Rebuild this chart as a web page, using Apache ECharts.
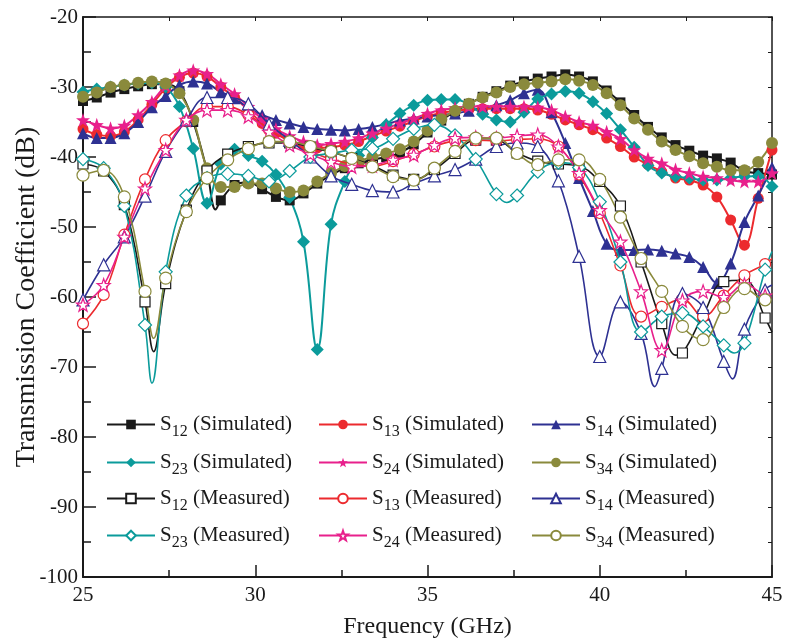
<!DOCTYPE html>
<html><head><meta charset="utf-8">
<script src="https://cdn.jsdelivr.net/npm/echarts@6/dist/echarts.min.js"></script>
<style>html,body{margin:0;padding:0;background:#fff}#c{width:787px;height:644px}</style>
</head><body><div id="c"></div>
<script>
const freqSim = [25.0,25.4,25.8,26.2,26.6,27.0,27.4,27.8,28.2,28.6,29.0,29.4,29.8,30.2,30.6,31.0,31.4,31.8,32.2,32.6,33.0,33.4,33.8,34.2,34.6,35.0,35.4,35.8,36.2,36.6,37.0,37.4,37.8,38.2,38.6,39.0,39.4,39.8,40.2,40.6,41.0,41.4,41.8,42.2,42.6,43.0,43.4,43.8,44.2,44.6,45.0];
const freqMeas = [25.0,25.6,26.2,26.8,27.4,28.0,28.6,29.2,29.8,30.4,31.0,31.6,32.2,32.8,33.4,34.0,34.6,35.2,35.8,36.4,37.0,37.6,38.2,38.8,39.4,40.0,40.6,41.2,41.8,42.4,43.0,43.6,44.2,44.8];

const s12Sim = [-32.0,-31.5,-30.8,-30.3,-29.9,-29.6,-29.6,-30.6,-35.0,-42.0,-46.2,-44.0,-43.6,-44.6,-45.7,-46.2,-45.2,-43.8,-42.6,-41.6,-40.9,-40.4,-40.0,-39.4,-38.2,-36.5,-34.8,-33.5,-32.4,-31.4,-30.6,-29.8,-29.2,-28.8,-28.5,-28.2,-28.5,-29.2,-30.5,-32.2,-34.0,-35.7,-37.2,-38.3,-39.1,-39.8,-40.2,-40.8,-42.0,-42.3,-42.5];
const s12SimExtra = [[28.85,-47.5]];
const s13Sim = [-36.0,-36.8,-37.0,-36.4,-34.7,-32.5,-30.2,-28.6,-28.0,-28.5,-30.0,-31.5,-33.3,-35.2,-36.6,-37.6,-38.3,-38.7,-38.6,-38.3,-37.8,-37.0,-36.3,-35.6,-34.9,-34.2,-33.7,-33.4,-33.2,-33.1,-33.1,-33.1,-33.1,-33.3,-33.9,-34.7,-35.4,-36.1,-37.3,-38.5,-40.0,-41.1,-42.1,-43.0,-43.3,-44.0,-45.7,-49.0,-52.6,-45.9,-39.0];
const s14Sim = [-36.6,-37.3,-37.3,-36.6,-35.0,-32.9,-31.3,-29.7,-29.2,-29.5,-30.7,-31.6,-33.0,-34.0,-34.7,-35.2,-35.7,-36.0,-36.1,-36.2,-36.0,-35.7,-35.3,-34.8,-34.5,-34.2,-34.0,-33.8,-33.4,-33.0,-32.6,-31.9,-30.9,-30.4,-33.6,-38.0,-43.0,-47.7,-52.4,-53.3,-53.3,-53.2,-53.4,-53.8,-54.3,-55.7,-58.0,-55.2,-49.3,-45.5,-41.5];
const s23Sim = [-30.7,-30.3,-30.0,-29.7,-29.5,-29.4,-30.0,-32.8,-38.8,-46.6,-41.0,-38.9,-39.8,-40.6,-42.5,-45.8,-52.1,-67.5,-49.6,-43.5,-39.8,-37.2,-35.4,-33.8,-32.6,-31.9,-31.8,-31.8,-32.5,-33.9,-34.7,-35.0,-33.6,-31.7,-31.0,-30.6,-30.9,-32.1,-33.8,-36.1,-38.6,-41.2,-42.3,-42.8,-43.0,-43.3,-43.3,-43.0,-42.8,-42.7,-44.2];
const s24Sim = [-34.7,-35.4,-35.9,-35.5,-34.0,-32.1,-29.8,-28.3,-27.6,-28.1,-29.6,-31.0,-32.8,-34.6,-36.0,-37.0,-37.8,-38.3,-38.1,-37.8,-37.3,-36.6,-35.9,-35.2,-34.5,-33.8,-33.3,-33.0,-32.8,-32.8,-32.8,-32.8,-32.8,-32.9,-33.3,-34.2,-35.0,-35.5,-36.4,-37.4,-39.0,-40.2,-40.9,-41.8,-42.3,-42.8,-43.0,-43.3,-43.5,-43.5,-42.3];
const s34Sim = [-31.4,-30.8,-30.0,-29.7,-29.4,-29.2,-29.5,-30.9,-34.7,-41.6,-44.3,-44.3,-43.8,-43.8,-44.5,-45.0,-44.8,-43.5,-42.3,-41.3,-40.6,-40.0,-39.5,-38.9,-37.8,-36.2,-34.6,-33.4,-32.4,-31.5,-30.8,-30.0,-29.6,-29.4,-29.2,-28.9,-29.1,-29.7,-30.9,-32.6,-34.5,-36.1,-37.8,-39.0,-39.9,-40.9,-41.4,-41.9,-41.9,-40.7,-38.0];

const s12Meas = [-41.0,-42.0,-46.8,-60.7,-58.1,-47.6,-42.0,-39.6,-38.5,-38.0,-38.0,-38.6,-39.3,-40.2,-41.2,-42.6,-43.2,-41.8,-39.5,-37.6,-37.6,-39.4,-40.6,-41.0,-41.3,-43.5,-47.0,-55.0,-63.8,-68.0,-62.6,-57.8,-57.6,-63.0];
const s12MeasExtra = [[27.05,-67.8],[42.2,-68.3],[45.0,-65.0]];
const s13Meas = [-63.8,-59.7,-51.1,-43.2,-37.6,-34.9,-32.8,-32.8,-34.0,-36.1,-37.8,-39.2,-40.3,-41.0,-41.3,-40.6,-39.6,-38.5,-37.7,-37.6,-37.7,-37.5,-37.4,-38.5,-42.5,-48.0,-55.5,-62.8,-61.4,-60.3,-62.8,-59.8,-56.9,-55.3];
const s13MeasExtra = [[45.0,-54.5]];
const s14Meas = [-60.4,-55.4,-51.4,-45.6,-39.2,-34.7,-31.5,-31.5,-32.4,-35.3,-37.6,-40.0,-42.7,-43.9,-44.8,-45.0,-43.8,-42.7,-41.8,-40.3,-38.5,-38.0,-38.5,-43.4,-54.2,-68.5,-60.7,-65.2,-70.2,-59.5,-61.5,-69.2,-64.6,-59.0];
const s14MeasExtra = [[41.6,-72.8],[43.85,-71.7],[45.0,-58.3]];
const s23Meas = [-40.3,-41.6,-47.0,-64.0,-56.4,-45.5,-43.0,-42.4,-42.7,-43.5,-42.0,-40.0,-39.5,-39.0,-38.8,-37.4,-36.0,-35.4,-36.9,-40.3,-45.3,-45.5,-42.1,-40.8,-41.5,-46.4,-55.0,-65.0,-62.8,-62.3,-64.2,-66.9,-66.6,-56.1];
const s23MeasExtra = [[27.0,-72.3],[37.3,-46.5],[43.9,-68.0],[45.0,-53.5]];
const s24Meas = [-61.1,-58.3,-51.4,-44.5,-39.0,-34.7,-33.3,-33.3,-34.2,-36.4,-38.3,-39.6,-40.7,-41.4,-41.2,-40.4,-39.7,-38.3,-37.3,-37.2,-37.3,-37.0,-36.8,-38.5,-42.3,-47.6,-52.1,-59.2,-67.6,-60.5,-59.2,-60.0,-58.2,-59.8];
const s24MeasExtra = [[45.0,-60.0]];
const s34Meas = [-42.6,-41.9,-45.7,-59.2,-57.3,-47.8,-43.0,-40.4,-38.8,-37.8,-37.8,-38.5,-39.2,-40.2,-41.4,-42.8,-43.3,-41.6,-39.2,-37.3,-37.3,-39.5,-41.1,-40.4,-40.4,-43.2,-48.6,-54.5,-59.2,-64.2,-66.1,-61.5,-58.8,-60.4];
const s34MeasExtra = [[27.05,-65.9],[45.0,-59.5]];

const legendNames = [
  'S12 (Simulated)','S13 (Simulated)','S14 (Simulated)',
  'S23 (Simulated)','S24 (Simulated)','S34 (Simulated)',
  'S12 (Measured)','S13 (Measured)','S14 (Measured)',
  'S23 (Measured)','S24 (Measured)','S34 (Measured)'
];

const C = {black:'#1a1a1a', red:'#ec2a2e', blue:'#2e3192', teal:'#0b9b9b', pink:'#e8208c', olive:'#8a8a3c'};
const STAR = 'path://M0,-10 L2.35,-3.24 L9.51,-3.09 L3.8,1.24 L5.88,8.09 L0,4 L-5.88,8.09 L-3.8,1.24 L-9.51,-3.09 L-2.35,-3.24 Z';
const FONT = 'Liberation Serif';

function mk(freqs, vals, extras) {
  const d = freqs.map((f, i) => [f, vals[i]]);
  (extras || []).forEach(e => d.push({ value: e, symbol: 'none' }));
  d.sort((a, b) => (Array.isArray(a) ? a[0] : a.value[0]) - (Array.isArray(b) ? b[0] : b.value[0]));
  return d;
}

function simSeries(name, color, symbol, size, data) {
  return { name, type: 'line', smooth: 0.4, data, color, symbol, symbolSize: size,
    lineStyle: { color, width: 2 }, itemStyle: { color }, z: 2 };
}
function measSeries(name, color, symbol, size, data) {
  return { name, type: 'line', smooth: 0.4, data, color, symbol, symbolSize: size,
    lineStyle: { color, width: 1.6 }, itemStyle: { color: '#fff', borderColor: color, borderWidth: 1.2 }, z: 3 };
}

const series = [
  simSeries(legendNames[0], C.black, 'rect', 10, mk(freqSim, s12Sim, s12SimExtra)),
  simSeries(legendNames[1], C.red, 'circle', 11, mk(freqSim, s13Sim)),
  simSeries(legendNames[2], C.blue, 'triangle', 12, mk(freqSim, s14Sim)),
  simSeries(legendNames[3], C.teal, 'diamond', 13, mk(freqSim, s23Sim)),
  simSeries(legendNames[4], C.pink, STAR, 14, mk(freqSim, s24Sim)),
  simSeries(legendNames[5], C.olive, 'circle', 12, mk(freqSim, s34Sim)),
  measSeries(legendNames[6], C.black, 'rect', 10, mk(freqMeas, s12Meas, s12MeasExtra)),
  measSeries(legendNames[7], C.red, 'circle', 11, mk(freqMeas, s13Meas, s13MeasExtra)),
  measSeries(legendNames[8], C.blue, 'triangle', 12, mk(freqMeas, s14Meas, s14MeasExtra)),
  measSeries(legendNames[9], C.teal, 'diamond', 13, mk(freqMeas, s23Meas, s23MeasExtra)),
  measSeries(legendNames[10], C.pink, STAR, 13, mk(freqMeas, s24Meas, s24MeasExtra)),
  measSeries(legendNames[11], C.olive, 'circle', 12, mk(freqMeas, s34Meas, s34MeasExtra))
];

const colLeft = [106, 318, 531];
const rowTop = [414, 452, 488, 525];
const legends = legendNames.map((n, i) => ({
  data: [n], left: colLeft[i % 3], top: rowTop[Math.floor(i / 3)],
  itemWidth: 48, itemHeight: 12, padding: 0, selectedMode: false,
  formatter: (name) => {
    const m = name.match(/^S(\d\d) (.*)$/);
    return '{n|S}{s|' + m[1] + '}{n| ' + m[2] + '}';
  },
  textStyle: { rich: {
    n: { fontFamily: FONT, fontSize: 21, color: '#1a1a1a' },
    s: { fontFamily: FONT, fontSize: 16, color: '#1a1a1a', padding: [15, 0, 0, 0] }
  } }
}));

const axisLbl = { fontFamily: FONT, fontSize: 21, color: '#1a1a1a' };
const chart = echarts.init(document.getElementById('c'), null, { renderer: 'canvas' });
chart.setOption({
  animation: false,
  backgroundColor: '#fff',
  grid: { left: 83, right: 15, top: 17, bottom: 67, containLabel: false, outerBoundsMode: 'none' },
  legend: legends,
  xAxis: [
    { type: 'value', min: 25, max: 45, interval: 5, position: 'bottom',
      name: 'Frequency (GHz)', nameLocation: 'middle', nameGap: 38,
      nameTextStyle: { fontFamily: FONT, fontSize: 24, color: '#1a1a1a' },
      axisLine: { lineStyle: { color: '#1a1a1a', width: 2 } },
      axisTick: { inside: true, length: 12, lineStyle: { color: '#1a1a1a', width: 1.5 } },
      minorTick: { show: true, splitNumber: 2, length: 7, lineStyle: { color: '#1a1a1a', width: 1.5 } },
      axisLabel: Object.assign({ margin: 8 }, axisLbl),
      splitLine: { show: false } },
    { type: 'value', min: 25, max: 45, interval: 5, position: 'top',
      axisLine: { onZero: false, lineStyle: { color: '#1a1a1a', width: 1.5 } },
      axisTick: { inside: true, length: 4, lineStyle: { color: '#1a1a1a' } },
      minorTick: { show: true, splitNumber: 2, length: 4, lineStyle: { color: '#1a1a1a' } },
      axisLabel: { show: false }, splitLine: { show: false } }
  ],
  yAxis: [
    { type: 'value', min: -100, max: -20, interval: 10, position: 'left',
      name: 'Transmission Coefficient (dB)', nameLocation: 'middle', nameGap: 42, nameMoveOverlap: false,
      nameTextStyle: { fontFamily: FONT, fontSize: 28, color: '#1a1a1a' },
      axisLine: { onZero: false, lineStyle: { color: '#1a1a1a', width: 2 } },
      axisTick: { inside: true, length: 13, lineStyle: { color: '#1a1a1a', width: 1.5 } },
      minorTick: { show: true, splitNumber: 2, length: 8, lineStyle: { color: '#1a1a1a', width: 1.5 } },
      axisLabel: Object.assign({ margin: 5 }, axisLbl),
      splitLine: { show: false } },
    { type: 'value', min: -100, max: -20, interval: 10, position: 'right',
      axisLine: { onZero: false, lineStyle: { color: '#1a1a1a', width: 1.5 } },
      axisTick: { inside: true, length: 4, lineStyle: { color: '#1a1a1a' } },
      minorTick: { show: true, splitNumber: 2, length: 4, lineStyle: { color: '#1a1a1a' } },
      axisLabel: { show: false }, splitLine: { show: false } }
  ],
  series
});
</script></body></html>
